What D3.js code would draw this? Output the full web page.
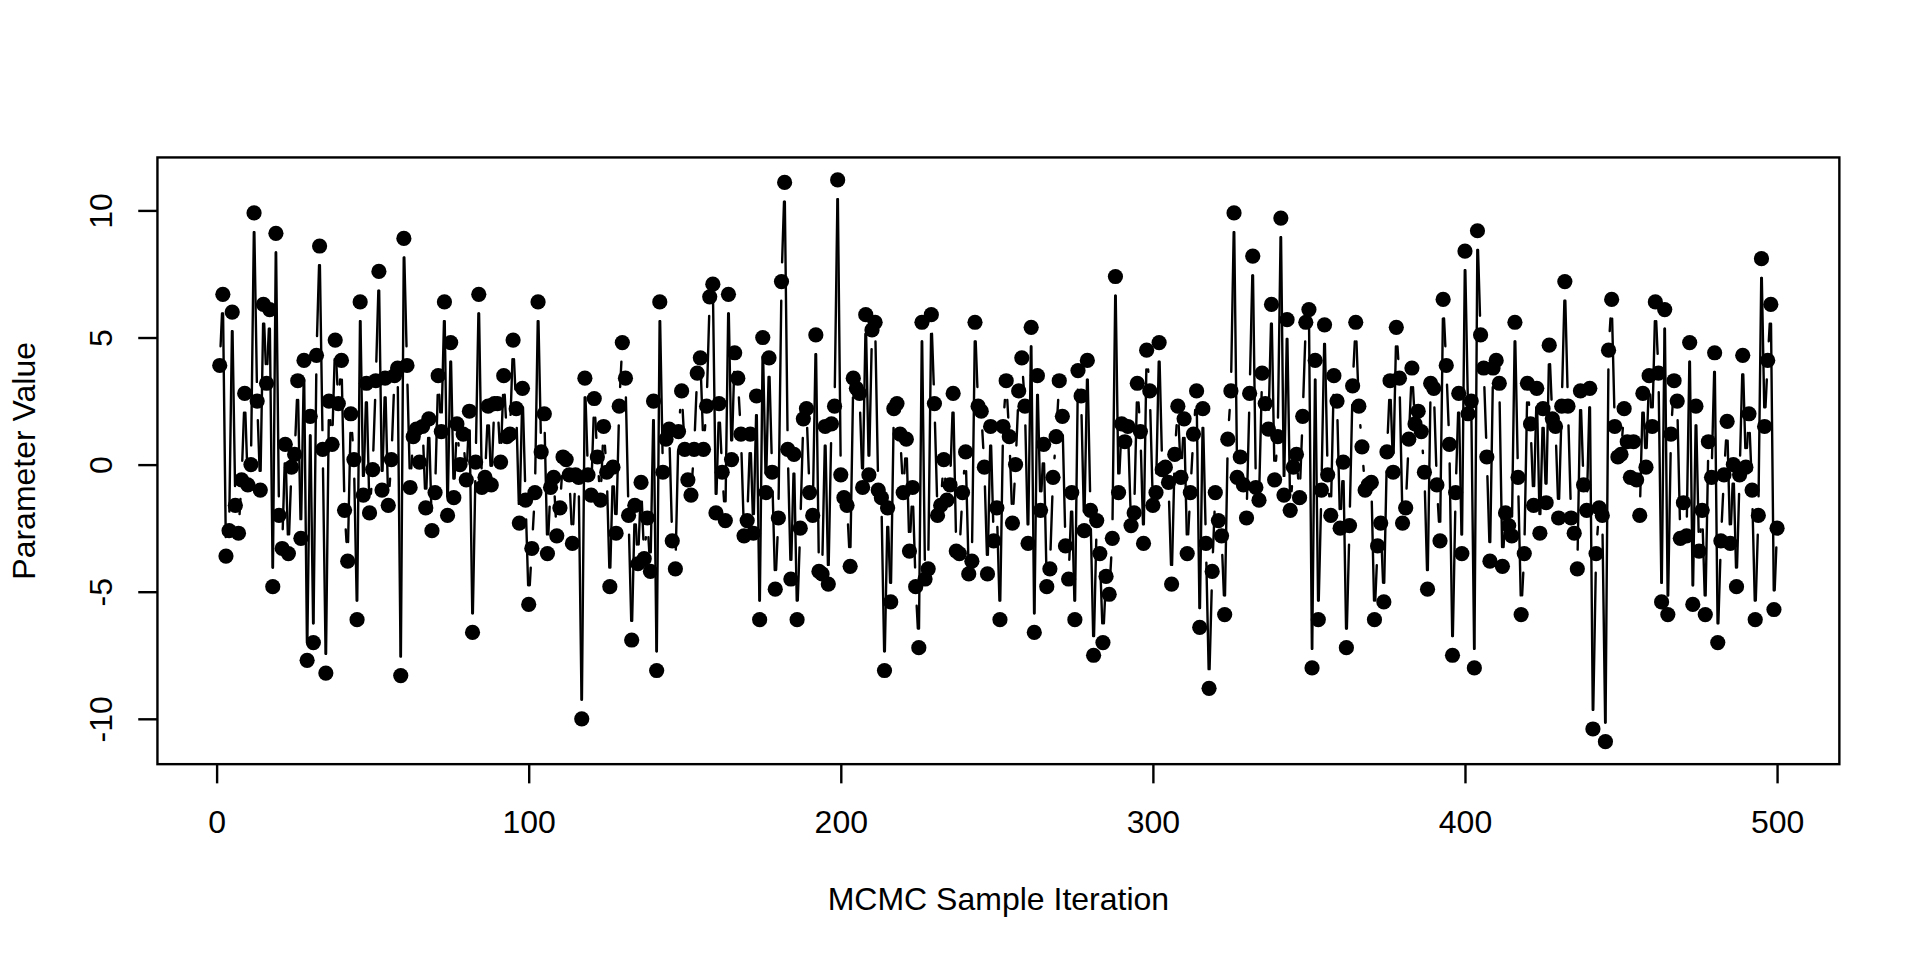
<!DOCTYPE html>
<html>
<head>
<meta charset="utf-8">
<script src="https://cdn.jsdelivr.net/npm/d3@7"></script>
<style>
  html, body { margin: 0; padding: 0; background: #ffffff; }
  svg { display: block; }
  text { font-family: "Liberation Sans", Arial, "DejaVu Sans", sans-serif; }
</style>
</head>
<body>
<svg id="chart" width="1920" height="960"></svg>
<script>
// ---- Data (MCMC trace, iterations 1..500) ----
const samplesA = [ // iterations 1-142
  3.9, 6.7, -3.6, -2.6, 6.0, -1.6, -2.7, -0.6, 2.8, -0.8,
  0.0, 9.9, 2.5, -1.0, 6.3, 3.2, 6.1, -4.8, 9.1, -2.0,
  -3.3, 0.8, -3.5, -0.1, 0.4, 3.3, -2.9, 4.1, -7.7, 1.9,
  -7.0, 4.3, 8.6, 0.6, -8.2, 2.5, 0.8, 4.9, 2.4, 4.1,
  -1.8, -3.8, 2.0, 0.2, -6.1, 6.4, -1.2, 3.2, -1.9, -0.2,
  3.3, 7.6, -1.0, 3.4, -1.6, 0.2, 3.5, 3.8, -8.3, 8.9,
  3.9, -0.9, 1.1, 1.4, 0.1, 1.5, -1.7, 1.8, -2.6, -1.1,
  3.5, 1.3, 6.4, -2.0, 4.8, -1.3, 1.6, 0.0, 1.2, -0.6,
  2.1, -6.6, 0.1, 6.7, -0.9, -0.5, 2.3, -0.8, 2.4, 2.4,
  0.1, 3.5, 1.1, 1.2, 4.9, 2.2, -2.3, 3.0, -1.4, -5.5,
  -3.3, -1.1, 6.4, 0.5, 2.0, -3.5, -0.9, -0.5, -2.8, -1.7,
  0.3, 0.2, -0.4, -3.1, -0.4, -0.5, -10.0, 3.4, -0.4, -1.2,
  2.6, 0.3, -1.4, 1.5, -0.3, -4.8, -0.1, -2.7, 2.3, 4.8,
  3.4, -2.0, -6.9, -1.6, -3.9, -0.7, -3.7, -2.1, -4.2, 2.5,
  -8.1, 6.4
];
const samplesB = [ // iterations 143-181
  -0.3, 1.0, 1.4, -3.0, -4.1, 1.3, 2.9, 0.6, -0.6, -1.2,
  0.6, 3.6, 4.2, 0.6, 2.3, 6.6, 7.1, -1.9, 2.4, -0.3,
  -2.2, 6.7, 0.2, 4.4, 3.4, 1.2, -2.8, -2.2, 1.2, -2.7,
  2.7, -6.1, 5.0, -1.1, 4.2, -0.3, -4.9, -2.1, 7.2
];
const samplesC = [ // iterations 182-199
  11.1, 0.6, -4.5, 0.4, -6.1, -2.5, 1.8, 2.2, -1.1, -2.0,
  5.1, -4.2, -4.3, 1.5, -4.7, 1.6, 2.3, 11.2
];
const samplesD = [ // iterations 200-251
  -0.4, -1.3, -1.6, -4.0, 3.4, 3.0, 2.8, -0.9, 5.9, -0.4,
  5.3, 5.6, -1.0, -1.3, -8.1, -1.7, -5.4, 2.2, 2.4, 1.2,
  -1.1, 1.0, -3.4, -0.9, -4.8, -7.2, 5.6, -4.5, -4.1, 5.9,
  2.4, -2.0, -1.6, 0.2, -1.4, -0.8, 2.8, -3.4, -3.5, -1.1,
  0.5, -4.3, -3.8, 5.6, 2.3, 2.1, -0.1, -4.3, 1.5, -3.0,
  -1.7, -6.1
];
const samplesE = [ // iterations 252-500
  1.5, 3.3, 1.1, -2.3, 0.0, 2.9, 4.2, 2.3, -3.1, 5.4,
  -6.6, 3.5, -1.8, 0.8, -4.8, -4.1, -0.5, 1.1, 3.3, 1.9,
  -3.2, -4.5, -1.1, -6.1, 3.7, 2.7, -2.6, 4.1, -1.8, -7.5,
  -2.2,
  -3.5, -7.0, -4.4, -5.1, -2.9, 7.4, -1.1, 1.6, 0.9, 1.5,
  -2.4, -1.9, 3.2, 1.3, -3.1, 4.5, 2.9, -1.6, -1.1, 4.8,
  -0.2, -0.1, -0.7, -4.7, 0.4, 2.3, -0.5, 1.8, -3.5, -1.1,
  1.2,
  2.9, -6.4, 2.2, -3.1, -8.8, -4.2, -1.1, -2.2, -2.8, -5.9,
  1.0, 2.9, 9.9, -0.5, 0.3, -0.8, -2.1, 2.8, 8.2, -0.9,
  -1.4, 3.6, 2.4, 1.4, 6.3, -0.6, 1.1, 9.7, -1.2, 5.7,
  -1.8, -0.1, 0.4, -1.3, 1.9, 5.6, 6.1, -8.0, 4.1, -6.1,
  -1.0,
  5.5, -0.4, -2.0, 3.5, 2.5, -2.5, 0.1, -7.2, -2.4, 3.1,
  5.6, 2.3, 0.7, -1.0, -0.8, -0.7, -6.1, -3.2, -2.3, -5.4,
  0.5, 3.3, -0.3, 5.4, 3.4, -2.3, -1.7, 1.0, 3.8, 1.6,
  2.1, 1.3, -0.3, -4.9, 3.2, 3.0, -0.8, -3.0, 6.5, 3.9,
  0.8,
  -7.5, -1.1, 2.8, -3.5, 8.4, 2.0, 2.5, -8.0, 9.2, 5.1,
  3.8, 0.3, -3.8, 3.8, 4.1, 3.2, -4.0, -1.9, -2.4, -2.8,
  5.6, -0.5, -5.9, -3.5, 3.2, 1.6, -1.6, 3.0, -2.7, 2.2,
  -1.5, 4.7, 1.8, 1.5, -2.1, 2.3, 7.2, 2.3, -2.1, -2.7,
  -4.1, 2.9, -0.8, -1.8, 3.0, -10.4, -3.5, -1.7, -2.0, -10.9,
  4.5, 6.5, 1.5, 0.3, 0.4, 2.2, 0.9, -0.5, 0.9, -0.6,
  -2.0, 2.8, -0.1, 3.5, 1.5, 6.4, 3.6, -5.4, 6.1, -5.9,
  1.2, 3.3, 2.5, -2.9, -1.5, -2.8, 4.8, -5.5, 2.3, -3.4,
  -1.8, -5.9, 0.9, -0.5, 4.4, -7.0, -3.0, -0.4, 1.7, -3.1,
  0.0, -4.8, -0.4, 4.3, -0.1, 2.0, -1.0, -6.1, -2.0, 8.1,
  1.5, 4.1, 6.3, -5.7, -2.5
];
const xTicks = [0, 100, 200, 300, 400, 500];
const yTicks = [-10, -5, 0, 5, 10];
const xTickLabels = ["0", "100", "200", "300", "400", "500"];
const yTickLabels = ["-10", "-5", "0", "5", "10"];
const xTitle = "MCMC Sample Iteration";
const yTitle = "Parameter Value";

// ---- Build series ----
const values = [].concat(samplesA, samplesB, samplesC, samplesD, samplesE);
const data = values.map((v, i) => ({ iter: i + 1, value: v }));

// ---- Layout (R base-graphics style) ----
const W = 1920, H = 960;
const lh = 38.4;                       // one margin line
const plot = { left: 4.1 * lh, right: W - 2.1 * lh, top: 4.1 * lh, bottom: H - 5.1 * lh };
const fontPx = 32;
const lwd = 2.4;
const ptR = 7.6;
const gap = 0.5 * lh;                  // type = "b" line gap

const svg = d3.select("#chart");
svg.append("rect").attr("width", W).attr("height", H).attr("fill", "#ffffff");

function padExtent(ext) {
  const d = (ext[1] - ext[0]) * 0.04;
  return [ext[0] - d, ext[1] + d];
}
const x = d3.scaleLinear()
  .domain(padExtent(d3.extent(data, d => d.iter)))
  .range([plot.left, plot.right]);
const y = d3.scaleLinear()
  .domain(padExtent(d3.extent(data, d => d.value)))
  .range([plot.bottom, plot.top]);

// ---- Lines with gaps (type = "b") ----
const segs = [];
for (let i = 1; i < data.length; i++) {
  const x0 = x(data[i - 1].iter), y0 = y(data[i - 1].value);
  const x1 = x(data[i].iter), y1 = y(data[i].value);
  const dx = x1 - x0, dy = y1 - y0;
  const dist = Math.hypot(dx, dy);
  const f = gap / dist;
  if (f < 0.5) {
    segs.push({ x1: x0 + f * dx, y1: y0 + f * dy, x2: x1 - f * dx, y2: y1 - f * dy });
  }
}
svg.append("g")
  .selectAll("line")
  .data(segs)
  .join("line")
  .attr("x1", d => d.x1).attr("y1", d => d.y1)
  .attr("x2", d => d.x2).attr("y2", d => d.y2)
  .attr("stroke", "#000").attr("stroke-width", lwd).attr("stroke-linecap", "round");

// ---- Points (pch = 19) ----
svg.append("g")
  .selectAll("circle")
  .data(data)
  .join("circle")
  .attr("cx", d => x(d.iter))
  .attr("cy", d => y(d.value))
  .attr("r", ptR)
  .attr("fill", "#000");

// ---- Box ----
svg.append("rect")
  .attr("x", plot.left).attr("y", plot.top)
  .attr("width", plot.right - plot.left).attr("height", plot.bottom - plot.top)
  .attr("fill", "none").attr("stroke", "#000").attr("stroke-width", lwd);

// ---- Axes ----
const xAxis = d3.axisBottom(x).tickValues(xTicks)
  .tickFormat((d, i) => xTickLabels[i]).tickSize(0.5 * lh).tickSizeOuter(0);
const gx = svg.append("g").attr("transform", `translate(0,${plot.bottom})`).call(xAxis);
gx.select(".domain").remove();
gx.selectAll(".tick line").attr("stroke", "#000").attr("stroke-width", lwd);
gx.selectAll(".tick text")
  .attr("y", 1.8 * lh).attr("dy", 0)
  .attr("fill", "#000")
  .style("font-size", fontPx + "px")
  .style("font-family", '"Liberation Sans", Arial, sans-serif');

const yAxis = d3.axisLeft(y).tickValues(yTicks)
  .tickFormat((d, i) => yTickLabels[i]).tickSize(0.5 * lh).tickSizeOuter(0);
const gy = svg.append("g").attr("transform", `translate(${plot.left},0)`).call(yAxis);
gy.select(".domain").remove();
gy.selectAll(".tick line").attr("stroke", "#000").attr("stroke-width", lwd);
gy.selectAll(".tick text")
  .attr("x", 0).attr("y", -1.19 * lh).attr("dy", 0)
  .attr("transform", "rotate(-90)")
  .attr("text-anchor", "middle")
  .attr("fill", "#000")
  .style("font-size", fontPx + "px")
  .style("font-family", '"Liberation Sans", Arial, sans-serif');

// ---- Axis titles ----
svg.append("text")
  .attr("x", (plot.left + plot.right) / 2)
  .attr("y", plot.bottom + 3.8 * lh)
  .attr("text-anchor", "middle")
  .attr("fill", "#000")
  .style("font-size", fontPx + "px")
  .text(xTitle);

svg.append("text")
  .attr("transform", `translate(${plot.left - 3.19 * lh},${(plot.top + plot.bottom) / 2}) rotate(-90)`)
  .attr("text-anchor", "middle")
  .attr("fill", "#000")
  .style("font-size", fontPx + "px")
  .text(yTitle);
</script>
</body>
</html>
